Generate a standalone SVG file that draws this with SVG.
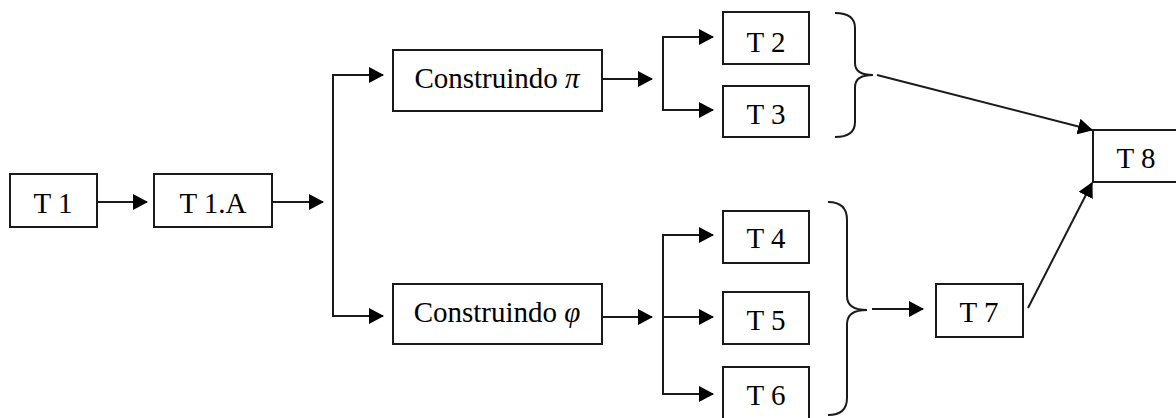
<svg xmlns="http://www.w3.org/2000/svg" width="1176" height="418" viewBox="0 0 1176 418">
  <style>
    .box { fill: #fff; stroke: #1a1a1a; stroke-width: 2; }
    .lbl { font-family: "Liberation Serif", "Times New Roman", serif; font-size: 29px; fill: #000; text-anchor: middle; }
    .sym { font-style: italic; }
    .ln { fill: none; stroke: #1a1a1a; stroke-width: 2; }
    .arr { fill: none; stroke: #1a1a1a; stroke-width: 2; marker-end: url(#ah); }
  </style>
  <defs>
    <marker id="ah" markerUnits="userSpaceOnUse" markerWidth="15" markerHeight="16" refX="14" refY="8" orient="auto">
      <path d="M0,0 L15,8 L0,16 z" fill="#000"/>
    </marker>
  </defs>
  <rect width="1176" height="418" fill="#fff"/>

  <g id="connectors">
    <line class="arr" x1="97" y1="202" x2="147" y2="202"/>
    <line class="arr" x1="272" y1="202" x2="323" y2="202"/>
    <line class="ln" x1="333" y1="75" x2="333" y2="316"/>
    <line class="arr" x1="332" y1="75" x2="383" y2="75"/>
    <line class="arr" x1="332" y1="316" x2="383" y2="316"/>
    <line class="arr" x1="602" y1="79" x2="652" y2="79"/>
    <line class="ln" x1="663" y1="37" x2="663" y2="110"/>
    <line class="arr" x1="662" y1="37" x2="713" y2="37"/>
    <line class="arr" x1="662" y1="110" x2="713" y2="110"/>
    <line class="arr" x1="602" y1="317" x2="652" y2="317"/>
    <line class="ln" x1="663" y1="235" x2="663" y2="394"/>
    <line class="arr" x1="662" y1="235" x2="713" y2="235"/>
    <line class="arr" x1="663" y1="317" x2="713" y2="317"/>
    <line class="arr" x1="662" y1="394" x2="713" y2="394"/>
    <path class="ln" d="M835,13 Q855,13 855,28 L855,63 Q855,75 873,75 Q855,75 855,87 L855,122 Q855,137 835,137"/>
    <path class="ln" d="M828,202 Q847,202 847,220 L847,296 Q847,310 867,310 Q847,310 847,324 L847,398 Q847,415 828,415"/>
    <line class="arr" x1="877" y1="75" x2="1092" y2="130"/>
    <line class="arr" x1="872" y1="309" x2="923" y2="309"/>
    <line class="arr" x1="1028" y1="308" x2="1092" y2="183"/>
  </g>

  <g id="T1"><rect class="box" x="10" y="174" width="87" height="53"/><text class="lbl" x="53" y="213">T 1</text></g>
  <g id="T1A"><rect class="box" x="154" y="174" width="118" height="53"/><text class="lbl" x="213" y="213">T 1.A</text></g>
  <g id="ConstruindoPi"><rect class="box" x="393" y="50" width="209" height="61"/><text class="lbl" x="497" y="88">Construindo <tspan class="sym">π</tspan></text></g>
  <g id="ConstruindoPhi"><rect class="box" x="393" y="284" width="209" height="60"/><text class="lbl" x="497" y="322">Construindo <tspan class="sym">φ</tspan></text></g>
  <g id="T2"><rect class="box" x="723" y="12" width="86" height="52"/><text class="lbl" x="766" y="52">T 2</text></g>
  <g id="T3"><rect class="box" x="723" y="86" width="86" height="51"/><text class="lbl" x="766" y="124">T 3</text></g>
  <g id="T4"><rect class="box" x="723" y="211" width="86" height="52"/><text class="lbl" x="766" y="248">T 4</text></g>
  <g id="T5"><rect class="box" x="723" y="292" width="86" height="52"/><text class="lbl" x="766" y="330">T 5</text></g>
  <g id="T6"><rect class="box" x="723" y="367" width="86" height="60"/><text class="lbl" x="766" y="405">T 6</text></g>
  <g id="T7"><rect class="box" x="936" y="284" width="87" height="53"/><text class="lbl" x="979" y="322">T 7</text></g>
  <g id="T8"><rect class="box" x="1093" y="130" width="90" height="52"/><text class="lbl" x="1136" y="168">T 8</text></g>
</svg>
